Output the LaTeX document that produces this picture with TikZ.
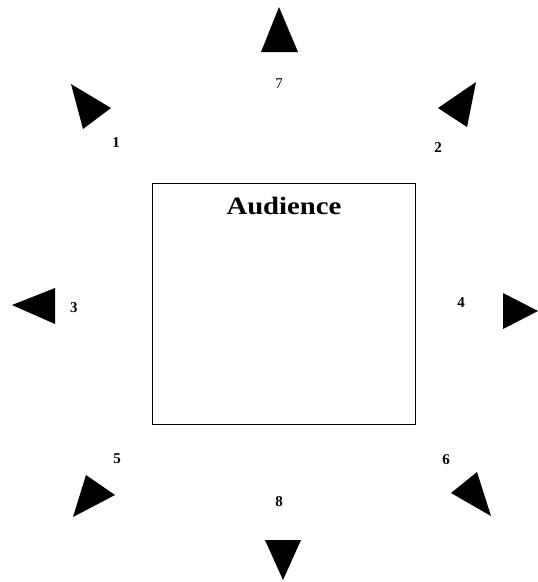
\documentclass[tikz,border=0pt]{standalone}
\usepackage{fontspec}
\setmainfont{Liberation Serif}
\begin{document}
\begin{tikzpicture}[x=1pt,y=-1pt,
  marker/.style={fill=black,draw=none},
  num/.style={font=\fontsize{15}{15}\selectfont\bfseries,inner sep=0pt},
  numlight/.style={font=\fontsize{15}{15}\selectfont,inner sep=0pt},
  stage/.style={draw=black,line width=1pt,inner sep=0pt}]
\useasboundingbox (0,0) rectangle (538,582);
% stage box
\node[stage,minimum width=263pt,minimum height=241pt] (box) at (283.5,303.5) {};
\draw[line width=1.8pt] (box.south west) -- (box.south east);
\node[font=\fontsize{25}{25}\selectfont\bfseries,inner sep=0pt,xscale=1.15] (aud) at (284,206) {Audience};
% speakers
\fill[marker] (279,7) -- (261,52) -- (298,52) -- cycle;
\fill[marker] (71,84) -- (111,108) -- (83,129) -- cycle;
\fill[marker] (476,82) -- (438,108) -- (467,127) -- cycle;
\fill[marker] (12,305) -- (55,288) -- (55,324) -- cycle;
\fill[marker] (503,293) -- (538,311) -- (503,329) -- cycle;
\fill[marker] (86,475) -- (115,495) -- (73,517) -- cycle;
\fill[marker] (477,472) -- (451,493) -- (491,516) -- cycle;
\fill[marker] (265,540) -- (301,540) -- (283,580) -- cycle;
% labels
\node[num] (n1) at (116,143) {1};
\node[num] (n2) at (438,148) {2};
\node[num] (n3) at (74,308) {3};
\node[num] (n4) at (461,303) {4};
\node[num] (n5) at (117,459) {5};
\node[num] (n6) at (446,460) {6};
\node[numlight] (n7) at (279,84) {7};
\node[num] (n8) at (279,502) {8};
\end{tikzpicture}
\end{document}
